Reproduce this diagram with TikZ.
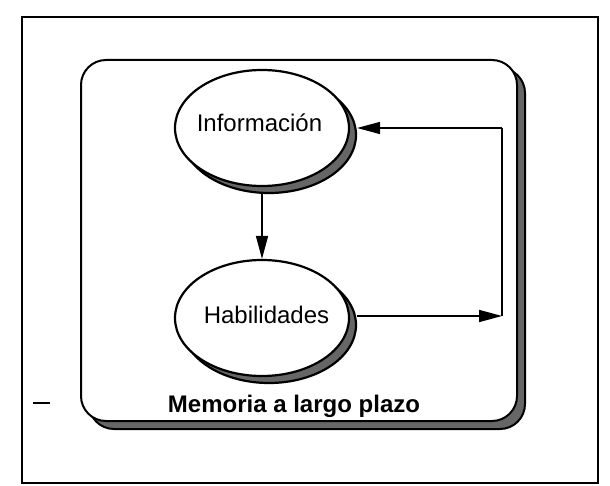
\documentclass[tikz,border=0pt]{standalone}
\usepackage{fontspec}
\setmainfont{Liberation Sans}
\usetikzlibrary{shapes.geometric,arrows.meta}
\begin{document}
\begin{tikzpicture}[x=1pt,y=-1pt,
  frame/.style={draw=black, line width=2pt},
  box/.style={draw=black, line width=2pt, fill=white, rounded corners=25pt},
  boxshadow/.style={draw=black, line width=2pt, fill=black!60, rounded corners=25pt},
  bubble/.style={ellipse, draw=black, line width=2.2pt, fill=white, minimum width=174pt, minimum height=116pt, inner sep=0pt},
  bubbleshadow/.style={bubble, fill=black!60},
  lab/.style={font=\fontsize{24pt}{28pt}\selectfont, inner sep=0pt, anchor=base},
  title/.style={font=\bfseries\fontsize{24pt}{28pt}\selectfont, inner sep=0pt, anchor=base},
  arr/.style={draw=black, line width=1.6pt, -{Triangle[length=23pt,width=12pt]}},
  conn/.style={draw=black, line width=1.6pt}]
\useasboundingbox (0,0) rectangle (610,486);
\path[fill=white] (0,0) rectangle (610,486);
% outer frame
\draw[frame] (21.5,17.5) rectangle (598,483);
% stray mark
\draw[line width=1.5pt] (33,403) -- (50,403);
% inner rounded box with shadow
\draw[boxshadow] (89,68) rectangle (525,429);
\draw[box] (81,60) rectangle (517,421);
% ellipses with shadows
\node[bubbleshadow] (infoshadow) at (269,135) {};
\node[bubble] (info) at (262,128) {};
\node[bubbleshadow] (habshadow) at (269,325) {};
\node[bubble] (hab) at (262,318) {};
% labels
\node[lab] (infotext) at (259.5,132) {Información};
\node[lab] (habtext) at (266.5,323) {Habilidades};
\node[title] (ltm) at (294,412) {Memoria a largo plazo};
% connectors
\coordinate (turn) at (502,316);
\draw[arr] (info.south |- infoshadow.south) -- (hab.north);
\draw[arr] (habshadow.east |- turn) -- (turn);
\draw[conn] (turn) -- (turn |- info.east);
\draw[arr] (turn |- info.east) -- (infoshadow.east |- info.east);
\end{tikzpicture}
\end{document}
